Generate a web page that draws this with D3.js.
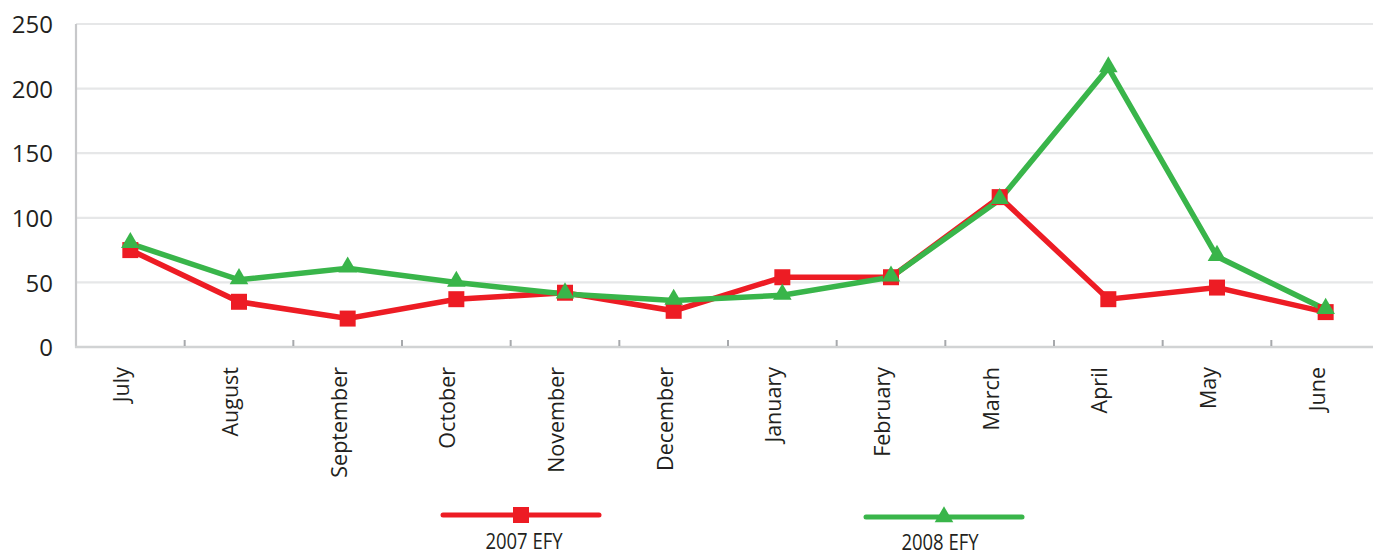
<!DOCTYPE html>
<html>
<head>
<meta charset="utf-8">
<script src="https://cdn.jsdelivr.net/npm/d3@7/dist/d3.min.js"></script>
<style>
  html, body { margin: 0; padding: 0; background: #fff; }
  svg { display: block; }
  text { font-family: "Open Sans", "Noto Sans", sans-serif; fill: #231F20; }
</style>
</head>
<body>
<svg id="chart" width="1373" height="556"></svg>
<script>
const months = ["July", "August", "September", "October", "November", "December",
                "January", "February", "March", "April", "May", "June"];
const series2007 = [75, 35, 22, 37, 42, 28, 54, 54, 116, 37, 46, 27];
const series2008 = [80, 52, 61, 50, 41, 36, 40, 54, 114, 216, 70, 29];
const yTicks = [0, 50, 100, 150, 200, 250];
const seriesNames = ["2007 EFY", "2008 EFY"];
const seriesColors = ["#ED1C24", "#39B54A"];

(function () {
const svg = d3.select("#chart");
const mLeft = 76, mTop = 24, mBottom = 347, bandRight = 1380, W = 1373;

const x = d3.scaleBand().domain(months).range([mLeft, bandRight]).paddingInner(0).paddingOuter(0);
const y = d3.scaleLinear().domain([0, 250]).range([mBottom, mTop]);

// gridlines
svg.append("g").selectAll("line").data(yTicks.filter(d => d > 0)).join("line")
  .attr("x1", mLeft).attr("x2", W)
  .attr("y1", d => y(d)).attr("y2", d => y(d))
  .attr("stroke", "#E6E7E8").attr("stroke-width", 2.2);

// y axis labels
const yAxis = d3.axisLeft(y).tickValues(yTicks).tickSize(0).tickPadding(23);
const gy = svg.append("g").attr("transform", `translate(${mLeft},0)`).call(yAxis);
gy.select(".domain").remove();
gy.selectAll("text").style("font-size", "24px").attr("fill", "#231F20")
  .style("font-family", "'Open Sans', sans-serif").attr("dy", "0.36em");

// left axis line
svg.append("line").attr("x1", mLeft).attr("x2", mLeft).attr("y1", mTop).attr("y2", mBottom + 1)
  .attr("stroke", "#C7C8CA").attr("stroke-width", 2.2);
// bottom axis line
svg.append("line").attr("x1", mLeft - 1).attr("x2", W).attr("y1", mBottom).attr("y2", mBottom)
  .attr("stroke", "#D1D3D4").attr("stroke-width", 2.5);

// category separator ticks
const bounds = months.slice(1).map(m => x(m));
svg.append("g").selectAll("line").data(bounds).join("line")
  .attr("x1", d => d).attr("x2", d => d)
  .attr("y1", mBottom - 7).attr("y2", mBottom - 1)
  .attr("stroke", "#A7A9AC").attr("stroke-width", 2);

// month labels (rotated)
svg.append("g").selectAll("text").data(months).join("text")
  .attr("transform", d => `translate(${x(d) + x.bandwidth() / 2 - 1},${mBottom + 20}) rotate(-90)`)
  .attr("text-anchor", "end")
  .style("font-size", "21.5px")
  .text(d => d);

const cx = d => x(d) + x.bandwidth() / 2;
const line = d3.line().x((d, i) => cx(months[i])).y(d => y(d));

const allSeries = [series2007, series2008];
const symbols = [d3.symbolSquare, d3.symbolTriangle];
const symSizes = [256, 150];

allSeries.forEach((s, k) => {
  svg.append("path").datum(s).attr("d", line)
    .attr("fill", "none").attr("stroke", seriesColors[k]).attr("stroke-width", 5.5)
    .attr("stroke-linejoin", "miter");
});
allSeries.forEach((s, k) => {
  svg.append("g").selectAll("path").data(s).join("path")
    .attr("transform", (d, i) => `translate(${cx(months[i])},${y(d) + (k === 1 ? -1 : 0)})`)
    .attr("d", d3.symbol().type(symbols[k]).size(symSizes[k]))
    .attr("fill", seriesColors[k]);
});

// legend
const legendCenters = [521, 944];
const legendLineY = [515, 517];
const legendTextY = [549, 550];
seriesNames.forEach((name, k) => {
  const g = svg.append("g");
  g.append("line")
    .attr("x1", legendCenters[k] - 78).attr("x2", legendCenters[k] + 78)
    .attr("y1", legendLineY[k]).attr("y2", legendLineY[k])
    .attr("stroke", seriesColors[k]).attr("stroke-width", 5).attr("stroke-linecap", "round");
  g.append("path")
    .attr("transform", `translate(${legendCenters[k]},${legendLineY[k]})`)
    .attr("d", d3.symbol().type(symbols[k]).size(symSizes[k]))
    .attr("fill", seriesColors[k]);
  g.append("text")
    .attr("transform", `translate(${legendCenters[k] + (k === 0 ? 3 : -4)},${legendTextY[k]}) scale(1,1.15)`)
    .attr("text-anchor", "middle")
    .style("font-size", "18.5px")
    .text(name);
});
})();
</script>
</body>
</html>
